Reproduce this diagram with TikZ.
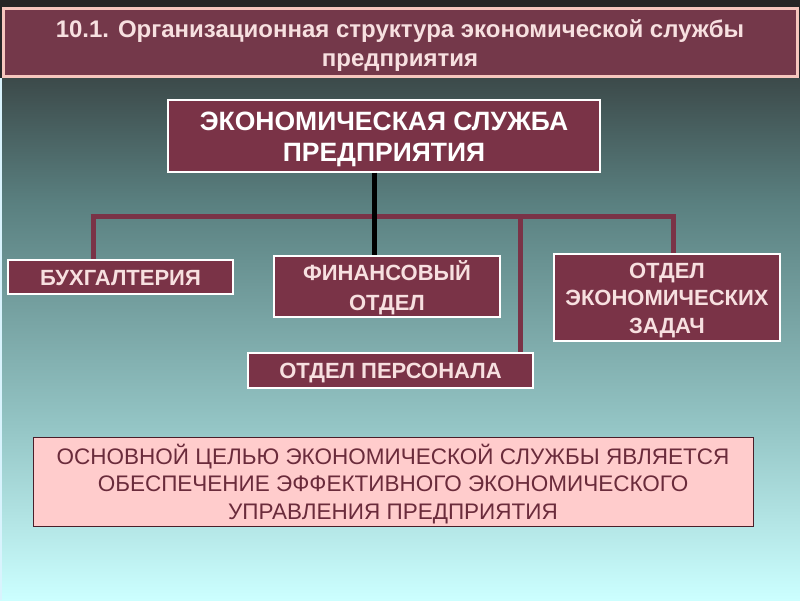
\documentclass[tikz,border=0pt]{standalone}
\usepackage{fontspec}
\setmainfont{Liberation Sans}
\definecolor{maroon}{HTML}{7A3347}
\definecolor{titlebar}{HTML}{74384A}
\definecolor{titleborder}{HTML}{F6C6BE}
\definecolor{boxtext}{HTML}{F7E0E0}
\definecolor{pinkbox}{HTML}{FFCCCC}
\definecolor{darktext}{HTML}{6A2B3B}
\definecolor{bgtop}{HTML}{3C4A4A}
\definecolor{bgup}{HTML}{5A8080}
\definecolor{bglow}{HTML}{93C4C4}
\definecolor{bgbot}{HTML}{CCFFFF}
\pgfdeclareverticalshading{bgshade}{100bp}{color(0bp)=(bgbot); color(25bp)=(bgbot); color(42bp)=(bglow); color(63bp)=(bgup); color(75bp)=(bgtop); color(100bp)=(bgtop)}
\tikzset{
  orgbox/.style={draw=white, line width=1.2pt, fill=maroon, inner sep=0pt},
  boxlabel/.style={text=boxtext, font=\bfseries\fontsize{22}{28}\selectfont, align=center, inner sep=0pt},
  conn/.style={draw=maroon, line width=5pt},
  mainline/.style={draw=black, line width=5pt},
}
\begin{document}
\begin{tikzpicture}[x=1pt,y=-1pt]
\useasboundingbox (0,0) rectangle (800,600);
\fill[black!85] (0,0) rectangle (800,80);
\shade[shading=bgshade] (0,78) rectangle (800,600);
\draw[white!85!cyan, line width=1.5pt] (0.75,78) -- (0.75,600);
\node[draw=titleborder, line width=3pt, fill=titlebar, minimum width=794pt, minimum height=68pt, inner sep=0pt] (title) at (400,42) {};
\node[text=boxtext, align=center, inner sep=0pt, font=\bfseries\fontsize{24}{29}\selectfont] (title-t) at ([yshift=-3.5pt]title.center) {10.1. Организационная структура экономической службы\\предприятия};
\node[orgbox, minimum width=432pt, minimum height=72pt] (top) at (384,136) {};
\node[boxlabel, text=white, font=\bfseries\fontsize{26.5}{31}\selectfont] (top-t) at ([yshift=-3.5pt]top.center) {ЭКОНОМИЧЕСКАЯ СЛУЖБА\\ПРЕДПРИЯТИЯ};
\node[orgbox, minimum width=225pt, minimum height=34pt] (buh) at (120.5,277) {};
\node[boxlabel] (buh-t) at ([yshift=-1pt]buh.center) {БУХГАЛТЕРИЯ};
\node[orgbox, minimum width=226pt, minimum height=61pt] (fin) at (387,286.5) {};
\node[boxlabel, font=\bfseries\fontsize{22}{30}\selectfont] (fin-t) at ([yshift=-1pt]fin.center) {ФИНАНСОВЫЙ\\ОТДЕЛ};
\node[orgbox, minimum width=226pt, minimum height=87pt] (ek) at (667,297.5) {};
\node[boxlabel, font=\bfseries\fontsize{22}{27.5}\selectfont] (ek-t) at ([yshift=-3pt]ek.center) {ОТДЕЛ\\ЭКОНОМИЧЕСКИХ\\ЗАДАЧ};
\node[orgbox, minimum width=285pt, minimum height=35pt] (pers) at (390.5,370.5) {};
\node[boxlabel] (pers-t) at ([yshift=-3pt]pers.center) {ОТДЕЛ ПЕРСОНАЛА};
\coordinate (bl) at (93,216);
\coordinate (bp) at (520,216);
\coordinate (br) at (673,216);
\coordinate (j) at (374,216);
\draw[conn] ([xshift=-2.5pt]bl) -- ([xshift=2.5pt]br);
\draw[conn] (bl) -- (bl |- buh.north);
\draw[conn] (bp) -- (bp |- pers.north);
\draw[conn] (br) -- (br |- ek.north);
\draw[mainline] (top.south -| j) -- (fin.north -| j);
\node[draw=darktext!70!black, line width=0.8pt, fill=pinkbox, minimum width=720pt, minimum height=89pt, inner sep=0pt] (goal) at (393,481.5) {};
\node[text=darktext, align=center, inner sep=0pt, font=\fontsize{22.5}{27.5}\selectfont] (goal-t) at ([yshift=-2.5pt]goal.center) {ОСНОВНОЙ ЦЕЛЬЮ ЭКОНОМИЧЕСКОЙ СЛУЖБЫ ЯВЛЯЕТСЯ\\ОБЕСПЕЧЕНИЕ ЭФФЕКТИВНОГО ЭКОНОМИЧЕСКОГО\\УПРАВЛЕНИЯ ПРЕДПРИЯТИЯ};
\end{tikzpicture}
\end{document}
